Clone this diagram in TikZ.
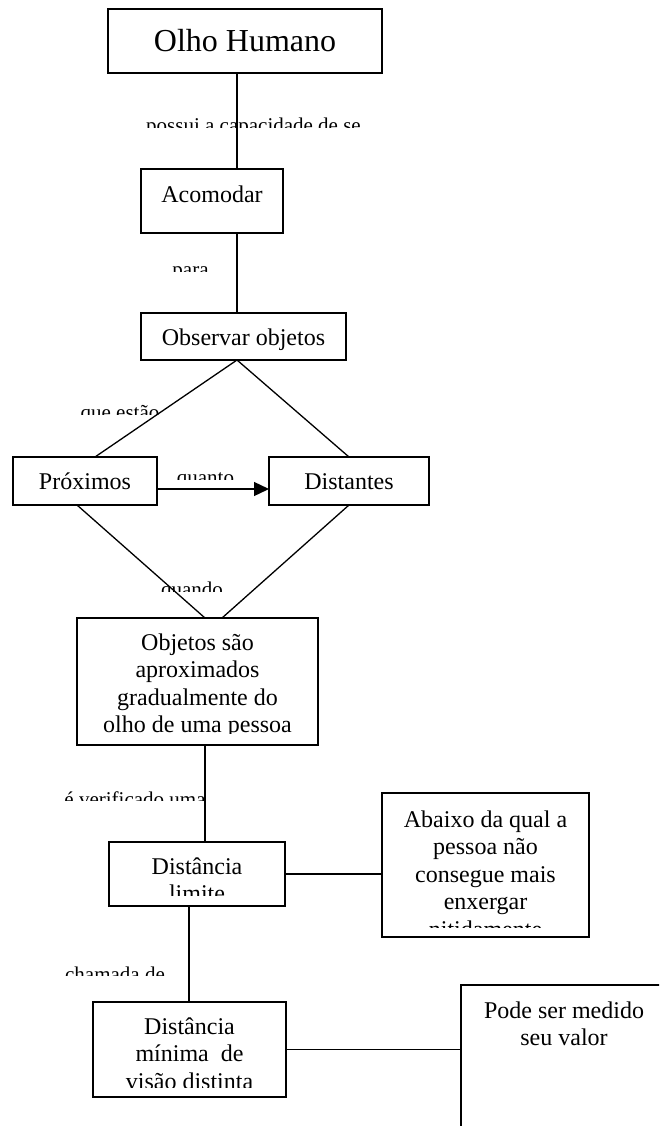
\documentclass[tikz,border=0pt]{standalone}
\usepackage{fontspec}
\setmainfont{Liberation Serif}
\usetikzlibrary{arrows.meta}
% centred stack of lines whose baseline is that of the first line
\newcommand\stacklines[1]{\begin{tabular}[t]{@{}c@{}}#1\end{tabular}}
\begin{document}
\begin{tikzpicture}[x=1pt,y=-1pt,
  box/.style={draw, line width=1.3pt, rectangle, inner sep=0pt, outer sep=0pt},
  conn/.style={line width=1.3pt},
  txt/.style={anchor=base, inner sep=0pt, font=\fontsize{24}{27.6}\selectfont},
  ttl/.style={anchor=base, inner sep=0pt, font=\fontsize{32}{36}\selectfont},
  lbl/.style={anchor=base, inner sep=0pt, font=\fontsize{21}{24}\selectfont},
]
\clip (0,0) rectangle (659,1126);
\fill[white] (0,0) rectangle (659,1126);

% boxes
\node[box, minimum width=274pt, minimum height=64pt] (olho) at (245,41) {};
\node[box, minimum width=142pt, minimum height=64pt] (acom) at (212,201) {};
\node[box, minimum width=205pt, minimum height=47pt] (obs) at (243.5,336.5) {};
\node[box, minimum width=144pt, minimum height=48pt] (prox) at (85,481) {};
\node[box, minimum width=160pt, minimum height=48pt] (dist) at (349,481) {};
\node[box, minimum width=241pt, minimum height=127pt] (obj) at (197.5,681.5) {};
\node[box, minimum width=176pt, minimum height=64pt] (dl) at (197,874) {};
\node[box, minimum width=207pt, minimum height=144pt] (abx) at (485.5,865) {};
\node[box, minimum width=193pt, minimum height=95pt] (dm) at (189.5,1049.5) {};
\node[box, minimum width=206pt, minimum height=175pt] (pode) at (564,1072.5) {};

% box texts
\node[ttl] (olhoT) at (245,52) {Olho Humano};
\node[txt] (acomT) at (212,202) {Acomodar};
\node[txt] (obsT) at (243.5,345) {Observar objetos};
\node[txt] (proxT) at (85,489) {Próximos};
\node[txt] (distT) at (349,489) {Distantes};
\begin{scope}
  \clip (77,618) rectangle (318,733);
  \node[txt] (objT) at (197.5,650) {\stacklines{Objetos são\\aproximados\\gradualmente do\\olho de uma pessoa}};
\end{scope}
\begin{scope}
  \clip (109,842) rectangle (285,895);
  \node[txt] (dlT) at (197,874) {\stacklines{Distância\\limite}};
\end{scope}
\begin{scope}
  \clip (382,793) rectangle (589,927);
  \node[txt] (abxT) at (485.5,827) {\stacklines{Abaixo da qual a\\pessoa não\\consegue mais\\enxergar\\nitidamente}};
\end{scope}
\begin{scope}
  \clip (93,1002) rectangle (286,1087);
  \node[txt] (dmT) at (189.5,1034) {\stacklines{Distância\\mínima\ \ de\\visão distinta}};
\end{scope}
\node[txt] (podeT) at (564,1018) {\stacklines{Pode ser medido\\seu valor}};

% link phrases, cut off along their lower part
\begin{scope}
  \clip (130,100) rectangle (380,128);
  \node[lbl] (l1) at (253.5,132.5) {possui a capacidade de se};
\end{scope}
\begin{scope}
  \clip (150,250) rectangle (230,271);
  \node[lbl] (l2) at (190.5,276.5) {para};
\end{scope}
\begin{scope}
  \clip (60,395) rectangle (180,414);
  \node[lbl] (l3) at (120,419.5) {que estão};
\end{scope}
\begin{scope}
  \clip (160,460) rectangle (250,479);
  \node[lbl] (l4) at (205.5,484.5) {quanto};
\end{scope}
\begin{scope}
  \clip (140,570) rectangle (245,591);
  \node[lbl] (l5) at (192,596) {quando};
\end{scope}
\begin{scope}
  \clip (40,780) rectangle (230,800);
  \node[lbl] (l6) at (135,806) {é verificado uma};
\end{scope}
\begin{scope}
  \clip (40,955) rectangle (190,975);
  \node[lbl] (l7) at (115,981) {chamada de};
\end{scope}

% connector positions
\coordinate (vA) at (237,0);
\coordinate (pA) at (95,0);
\coordinate (pB) at (77,0);
\coordinate (oL) at (205,0);
\coordinate (oR) at (222,0);
\coordinate (dB) at (189,0);
\coordinate (aY) at (0,489);

% connectors
\draw[conn] (vA |- olho.south) -- (vA |- acom.north);
\draw[conn] (vA |- acom.south) -- (vA |- obs.north);
\draw[conn] (pA |- prox.north) -- (vA |- obs.south) -- (dist.north);
\draw[conn, -{Triangle[length=15pt,width=14pt]}] (prox.east |- aY) -- (dist.west |- aY);
\draw[conn] (pB |- prox.south) -- (oL |- obj.north);
\draw[conn] (dist.south) -- (oR |- obj.north);
\draw[conn] (oL |- obj.south) -- (oL |- dl.north);
\draw[conn] (dB |- dl.south) -- (dB |- dm.north);
\draw[conn] (dl.east) -- (dl.east -| abx.west);
\draw[conn] (dm.east) -- (dm.east -| pode.west);
\end{tikzpicture}
\end{document}
